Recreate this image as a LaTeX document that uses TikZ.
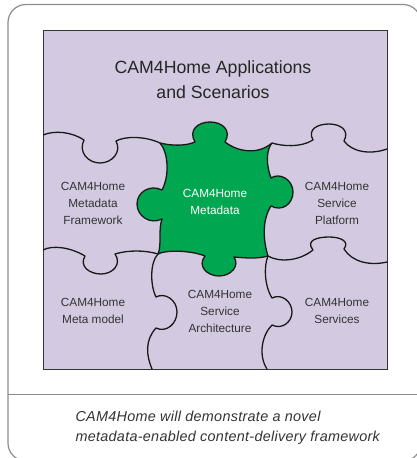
\documentclass[tikz,border=0pt]{standalone}
\usepackage{fontspec}
\setmainfont{Liberation Sans}
\newfontfamily\captionfont[LetterSpace=2]{Liberation Sans}
\begin{document}
\begin{tikzpicture}[x=1pt,y=-1pt,
  panel/.style={draw=black!45,line width=1.2pt},
  board/.style={draw=black!80,line width=1pt,fill=lilac},
  seam/.style={draw=black!90,line width=1.3pt,line join=round},
  core/.style={fill=puzzlegreen},
  piecetext/.style={align=center,text=black!80,font=\fontsize{11.8}{17}\selectfont},
  coretext/.style={align=center,text=white,font=\fontsize{11.8}{17}\selectfont},
  titletext/.style={align=center,text=black!85,font=\fontsize{17.7}{25}\selectfont},
  note/.style={anchor=base west,text=black!80,font=\captionfont\itshape\fontsize{14.4}{20}\selectfont}]
\definecolor{lilac}{HTML}{D3CAE2}
\definecolor{puzzlegreen}{HTML}{00A650}
\useasboundingbox (0,0) rectangle (417,458);
\clip (0,0) rectangle (417,458);

% outer frame and caption divider
\draw[panel,rounded corners=18pt] (8,4.5) rectangle (421,461);
\draw[panel,line width=1pt] (8,394) -- (421,394);

% board behind the puzzle pieces
\draw[board] (43,30) rectangle (387,369);

% central piece
\coordinate (A) at (160,143);
\coordinate (B) at (272,143);
\coordinate (C) at (268,256);
\coordinate (D) at (158,254);
\path[core] (A)
  .. controls (172,146) and (186,146) .. (195,142)
  .. controls (188,130) and (198,122) .. (210,122)
  .. controls (222,122) and (232,130) .. (225,142)
  .. controls (238,152) and (258,155) .. (B)
  .. controls (266,150) and (266,165) .. (271,178)
  .. controls (280,172) and (293,180) .. (293,192)
  .. controls (293,204) and (282,212) .. (271,206)
  .. controls (262,220) and (263,240) .. (C)
  .. controls (258,259) and (245,258) .. (234,257)
  .. controls (240,266) and (231,276) .. (219,276)
  .. controls (207,276) and (197,266) .. (205,256)
  .. controls (190,250) and (165,250) .. (D)
  .. controls (162,245) and (158,230) .. (162,219)
  .. controls (150,225) and (137,216) .. (137,204)
  .. controls (137,192) and (150,184) .. (162,190)
  .. controls (170,175) and (168,152) .. (A) -- cycle;

% outline of the central piece
\draw[seam] (A)
  .. controls (172,146) and (186,146) .. (195,142)
  .. controls (188,130) and (198,122) .. (210,122)
  .. controls (222,122) and (232,130) .. (225,142)
  .. controls (238,152) and (258,155) .. (B)
  .. controls (266,150) and (266,165) .. (271,178)
  .. controls (280,172) and (293,180) .. (293,192)
  .. controls (293,204) and (282,212) .. (271,206)
  .. controls (262,220) and (263,240) .. (C)
  .. controls (258,259) and (245,258) .. (234,257)
  .. controls (240,266) and (231,276) .. (219,276)
  .. controls (207,276) and (197,266) .. (205,256)
  .. controls (190,250) and (165,250) .. (D)
  .. controls (162,245) and (158,230) .. (162,219)
  .. controls (150,225) and (137,216) .. (137,204)
  .. controls (137,192) and (150,184) .. (162,190)
  .. controls (170,175) and (168,152) .. (A) -- cycle;

% upper left seam
\coordinate (L1) at (43,135);
\draw[seam] (L1)
  .. controls (55,130) and (72,132) .. (84,140)
  .. controls (78,152) and (88,163) .. (100,163)
  .. controls (112,163) and (122,152) .. (116,141)
  .. controls (125,136) and (145,136) .. (A);

% upper right seam
\coordinate (R1) at (387,149);
\draw[seam] (B)
  .. controls (282,146) and (300,148) .. (313,140)
  .. controls (307,129) and (318,124) .. (329,124)
  .. controls (340,124) and (350,130) .. (344,141)
  .. controls (352,152) and (370,155) .. (R1);

% lower left seam
\coordinate (L2) at (43,250);
\draw[seam] (L2)
  .. controls (52,245) and (70,247) .. (85,256)
  .. controls (79,266) and (89,274) .. (101,274)
  .. controls (113,274) and (122,264) .. (115,254)
  .. controls (128,250) and (145,250) .. (D);

% lower right seam
\coordinate (R2) at (387,262);
\draw[seam] (C)
  .. controls (278,262) and (298,262) .. (313,250)
  .. controls (305,240) and (318,237) .. (329,237)
  .. controls (340,237) and (350,241) .. (344,249)
  .. controls (352,262) and (370,266) .. (R2);

% lower left vertical seam
\coordinate (B1) at (152,369);
\draw[seam] (D)
  .. controls (150,262) and (150,285) .. (156,297)
  .. controls (165,292) and (177,300) .. (177,312)
  .. controls (177,324) and (166,333) .. (156,328)
  .. controls (145,340) and (146,355) .. (B1);

% lower right vertical seam
\coordinate (B2) at (267,369);
\draw[seam] (C)
  .. controls (264,265) and (264,285) .. (272,298)
  .. controls (282,293) and (292,302) .. (292,312)
  .. controls (292,322) and (282,330) .. (272,325)
  .. controls (262,335) and (258,355) .. (B2);

% labels
\node[titletext] (title) at (213,80) {CAM4Home Applications\\and Scenarios};
\node[piecetext] (framework) at (93,203) {CAM4Home\\Metadata\\Framework};
\node[coretext] (metadata) at (215,202) {CAM4Home\\Metadata};
\node[piecetext] (platform) at (337,203) {CAM4Home\\Service\\Platform};
\node[piecetext] (metamodel) at (93,311) {CAM4Home\\Meta model};
\node[piecetext] (architecture) at (220,311) {CAM4Home\\Service\\Architecture};
\node[piecetext] (services) at (337,311) {CAM4Home\\Services};

% caption
\node[note] (note1) at (72,421.7) {CAM4Home will demonstrate a novel};
\node[note] (note2) at (72,441.7) {metadata-enabled content-delivery framework};
\end{tikzpicture}
\end{document}
